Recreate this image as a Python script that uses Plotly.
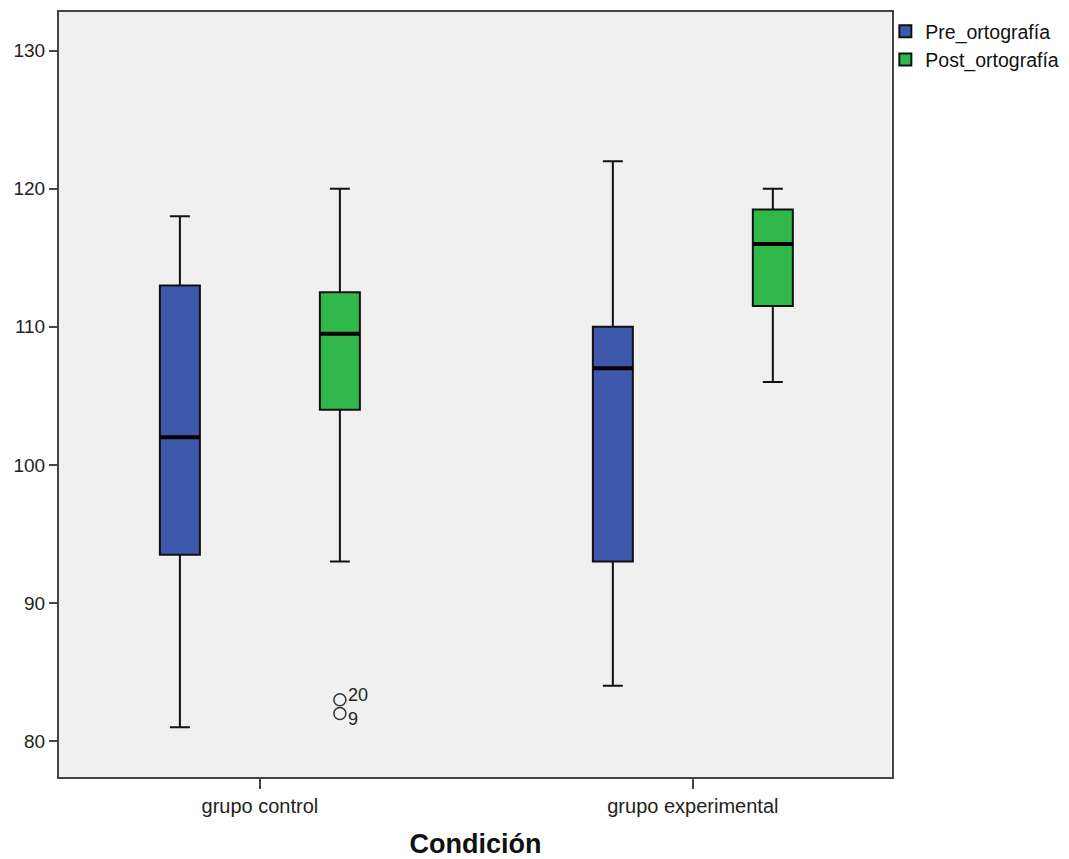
import plotly.graph_objects as go

categories = ["grupo control", "grupo experimental"]
series_names = ["Pre_ortografía", "Post_ortografía"]

pre_lower = [81, 84]
pre_q1 = [93.5, 93]
pre_median = [102, 107]
pre_q3 = [113, 110]
pre_upper = [118, 122]

post_lower = [93, 106]
post_q1 = [104, 111.5]
post_median = [109.5, 116]
post_q3 = [112.5, 118.5]
post_upper = [120, 120]

post_outliers = [[82, 83], []]
outlier_labels = ["9", "20"]

colors = ["#3e58ac", "#30b84a"]

fig = go.Figure()
fig.add_trace(go.Box(
    name=series_names[0], x=categories,
    q1=pre_q1, median=pre_median, q3=pre_q3,
    lowerfence=pre_lower, upperfence=pre_upper,
    fillcolor=colors[0], line=dict(color="#111111", width=2),
    whiskerwidth=0.5, boxpoints=False, offsetgroup="pre",
))
fig.add_trace(go.Box(
    name=series_names[1], x=categories, y=post_outliers,
    q1=post_q1, median=post_median, q3=post_q3,
    lowerfence=post_lower, upperfence=post_upper,
    fillcolor=colors[1], line=dict(color="#111111", width=2),
    marker=dict(symbol="circle-open", size=12, color="#333333", line=dict(width=1.5)),
    whiskerwidth=0.5, boxpoints="outliers", pointpos=0, jitter=0, offsetgroup="post",
))
# thicker median lines, drawn over the boxes in the same slots
for med, grp in [(pre_median, "pre"), (post_median, "post")]:
    fig.add_trace(go.Box(
        x=categories, q1=med, median=med, q3=med, lowerfence=med, upperfence=med,
        fillcolor="rgba(0,0,0,0)", line=dict(color="#000000", width=4),
        whiskerwidth=0, boxpoints=False, offsetgroup=grp, showlegend=False,
        hoverinfo="skip",
    ))

for val, lab in zip(post_outliers[0], outlier_labels):
    fig.add_annotation(x=categories[0], y=val, text=lab, showarrow=False,
                       xref="x", yref="y", xanchor="left",
                       xshift=86, yshift=(-6 if lab == "9" else 5),
                       font=dict(family="Liberation Sans", size=18, color="#222"))

fig.update_layout(
    width=1061, height=851,
    margin=dict(l=51, r=177, t=2, b=82),
    paper_bgcolor="white", plot_bgcolor="#f0f0f0",
    boxmode="group", boxgap=0.261, boxgroupgap=0.75,
    font=dict(family="Liberation Sans", size=18, color="#222"),
    legend=dict(x=0.992, y=1.0, xanchor="left", yanchor="top",
                font=dict(size=19.5, color="#111"), bgcolor="rgba(0,0,0,0)",
                tracegroupgap=0, itemwidth=30),
    showlegend=True,
)
fig.update_xaxes(
    range=[-0.464, 1.46], showline=True, mirror=True, linecolor="#444", linewidth=2,
    ticks="outside", ticklen=10, tickcolor="#444", tickwidth=1.5,
    showgrid=False, zeroline=False,
    tickfont=dict(size=20, color="#222"),
    title=dict(text="<b>Condición</b>", font=dict(size=27, color="#111"), standoff=18),
)
fig.update_yaxes(
    range=[77.4, 132.8], showline=True, mirror=True, linecolor="#444", linewidth=2,
    ticks="outside", ticklen=8, tickcolor="#444", tickwidth=1.5,
    tickvals=[80, 90, 100, 110, 120, 130],
    showgrid=False, zeroline=False,
    tickfont=dict(size=19, color="#222"),
)

fig.write_html("out.html")
